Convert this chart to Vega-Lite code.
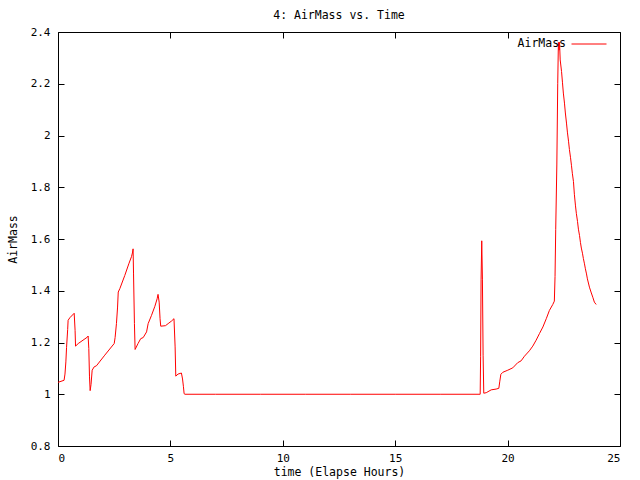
{
  "$schema": "https://vega.github.io/schema/vega-lite/v6.json",
  "width": 562,
  "height": 414,
  "autosize": {"type": "none"},
  "padding": {"left": 58, "top": 32, "right": 20, "bottom": 34},
  "background": "white",
  "title": {"text": "4: AirMass vs. Time", "font": "DejaVu Sans Mono", "fontSize": 11.5, "fontWeight": "normal", "color": "black", "offset": 5, "anchor": "middle"},
  "config": {
    "view": {"stroke": "black", "strokeWidth": 1},
    "axis": {
      "domain": false,
      "ticks": false,
      "grid": true,
      "gridColor": "#000000",
      "gridOpacity": 1,
      "gridWidth": 1,
      "labelFont": "DejaVu Sans Mono",
      "labelFontSize": 11,
      "labelColor": "black",
      "titleFont": "DejaVu Sans Mono",
      "titleFontSize": 11.5,
      "titleFontWeight": "normal",
      "titleColor": "black"
    }
  },
  "data": {"values": [
    {"t": 0.00, "v": 1.046}, {"t": 0.27, "v": 1.054}, {"t": 0.31, "v": 1.078}, {"t": 0.35, "v": 1.125},
    {"t": 0.38, "v": 1.18}, {"t": 0.43, "v": 1.25}, {"t": 0.45, "v": 1.286}, {"t": 0.53, "v": 1.296},
    {"t": 0.72, "v": 1.313}, {"t": 0.76, "v": 1.247}, {"t": 0.78, "v": 1.186}, {"t": 0.90, "v": 1.196},
    {"t": 1.31, "v": 1.221}, {"t": 1.34, "v": 1.225}, {"t": 1.37, "v": 1.177}, {"t": 1.40, "v": 1.07},
    {"t": 1.43, "v": 1.014}, {"t": 1.47, "v": 1.038}, {"t": 1.52, "v": 1.093}, {"t": 1.61, "v": 1.106},
    {"t": 1.71, "v": 1.11}, {"t": 2.08, "v": 1.151}, {"t": 2.50, "v": 1.196}, {"t": 2.54, "v": 1.219},
    {"t": 2.60, "v": 1.273}, {"t": 2.65, "v": 1.337}, {"t": 2.68, "v": 1.395}, {"t": 2.75, "v": 1.408},
    {"t": 2.97, "v": 1.459}, {"t": 3.15, "v": 1.504}, {"t": 3.27, "v": 1.532}, {"t": 3.31, "v": 1.546},
    {"t": 3.34, "v": 1.562}, {"t": 3.36, "v": 1.465}, {"t": 3.40, "v": 1.273}, {"t": 3.43, "v": 1.173},
    {"t": 3.56, "v": 1.196}, {"t": 3.68, "v": 1.215}, {"t": 3.79, "v": 1.219}, {"t": 3.94, "v": 1.241},
    {"t": 4.01, "v": 1.273}, {"t": 4.16, "v": 1.305}, {"t": 4.31, "v": 1.34}, {"t": 4.41, "v": 1.369},
    {"t": 4.45, "v": 1.386}, {"t": 4.50, "v": 1.356}, {"t": 4.54, "v": 1.292}, {"t": 4.57, "v": 1.263},
    {"t": 4.78, "v": 1.265}, {"t": 4.90, "v": 1.273}, {"t": 5.05, "v": 1.283}, {"t": 5.16, "v": 1.292},
    {"t": 5.21, "v": 1.183}, {"t": 5.24, "v": 1.07}, {"t": 5.34, "v": 1.078}, {"t": 5.49, "v": 1.082},
    {"t": 5.54, "v": 1.059}, {"t": 5.58, "v": 1.029}, {"t": 5.61, "v": 1.002}, {"t": 5.65, "v": 1.0},
    {"t": 7.0, "v": 1.0}, {"t": 9.0, "v": 1.0}, {"t": 11.0, "v": 1.0}, {"t": 13.0, "v": 1.0},
    {"t": 15.0, "v": 1.0}, {"t": 17.0, "v": 1.0}, {"t": 18.78, "v": 1.0},
    {"t": 18.80, "v": 1.147}, {"t": 18.82, "v": 1.442}, {"t": 18.85, "v": 1.593}, {"t": 18.88, "v": 1.442},
    {"t": 18.91, "v": 1.151}, {"t": 18.94, "v": 1.004}, {"t": 19.05, "v": 1.006}, {"t": 19.27, "v": 1.017},
    {"t": 19.49, "v": 1.02}, {"t": 19.61, "v": 1.023}, {"t": 19.65, "v": 1.048}, {"t": 19.70, "v": 1.077},
    {"t": 19.79, "v": 1.085}, {"t": 20.01, "v": 1.093}, {"t": 20.23, "v": 1.102}, {"t": 20.45, "v": 1.122},
    {"t": 20.60, "v": 1.129}, {"t": 20.75, "v": 1.147}, {"t": 20.97, "v": 1.168}, {"t": 21.12, "v": 1.186},
    {"t": 21.27, "v": 1.209}, {"t": 21.42, "v": 1.235}, {"t": 21.57, "v": 1.26}, {"t": 21.72, "v": 1.292},
    {"t": 21.86, "v": 1.324}, {"t": 22.01, "v": 1.347}, {"t": 22.08, "v": 1.36}, {"t": 22.11, "v": 1.455},
    {"t": 22.14, "v": 1.636}, {"t": 22.19, "v": 1.886}, {"t": 22.23, "v": 2.2}, {"t": 22.26, "v": 2.36},
    {"t": 22.29, "v": 2.33}, {"t": 22.31, "v": 2.36}, {"t": 22.34, "v": 2.292}, {"t": 22.40, "v": 2.247},
    {"t": 22.44, "v": 2.206}, {"t": 22.48, "v": 2.164}, {"t": 22.53, "v": 2.125}, {"t": 22.57, "v": 2.087},
    {"t": 22.62, "v": 2.048}, {"t": 22.66, "v": 2.013}, {"t": 22.71, "v": 1.978}, {"t": 22.75, "v": 1.946},
    {"t": 22.80, "v": 1.914}, {"t": 22.84, "v": 1.885}, {"t": 22.88, "v": 1.854}, {"t": 22.93, "v": 1.822},
    {"t": 22.97, "v": 1.773}, {"t": 23.02, "v": 1.728}, {"t": 23.06, "v": 1.698}, {"t": 23.11, "v": 1.668},
    {"t": 23.15, "v": 1.638}, {"t": 23.20, "v": 1.613}, {"t": 23.24, "v": 1.587}, {"t": 23.28, "v": 1.565},
    {"t": 23.33, "v": 1.545}, {"t": 23.37, "v": 1.525}, {"t": 23.42, "v": 1.504}, {"t": 23.46, "v": 1.485},
    {"t": 23.51, "v": 1.465}, {"t": 23.55, "v": 1.446}, {"t": 23.64, "v": 1.414}, {"t": 23.71, "v": 1.395},
    {"t": 23.79, "v": 1.375}, {"t": 23.86, "v": 1.356}, {"t": 23.94, "v": 1.347}
  ]},
  "mark": {"type": "line", "strokeWidth": 1},
  "encoding": {
    "x": {"field": "t", "type": "quantitative", "scale": {"domain": [0, 25], "nice": false, "zero": false},
          "axis": {"orient": "bottom", "title": "time (Elapse Hours)", "values": [0, 5, 10, 15, 20, 25], "gridDash": [6, 402, 6], "zindex": 1, "labelPadding": 6, "titlePadding": 3}},
    "y": {"field": "v", "type": "quantitative", "scale": {"domain": [0.8, 2.4], "nice": false, "zero": false},
          "axis": {"orient": "left", "title": "AirMass", "values": [0.8, 1, 1.2, 1.4, 1.6, 1.8, 2, 2.2, 2.4], "format": "~g", "gridDash": [6, 550, 6], "zindex": 1, "labelPadding": 8, "titlePadding": 12}},
    "color": {"datum": "AirMass", "type": "nominal", "scale": {"range": ["#ff0000"]},
              "legend": {"orient": "none", "legendX": 513, "legendY": -6, "title": null, "symbolType": "stroke", "symbolSize": 1225, "symbolStrokeWidth": 1, "labelAlign": "right", "labelOffset": -41, "labelFont": "DejaVu Sans Mono", "labelFontSize": 11.5, "labelColor": "black"}}
  }
}
